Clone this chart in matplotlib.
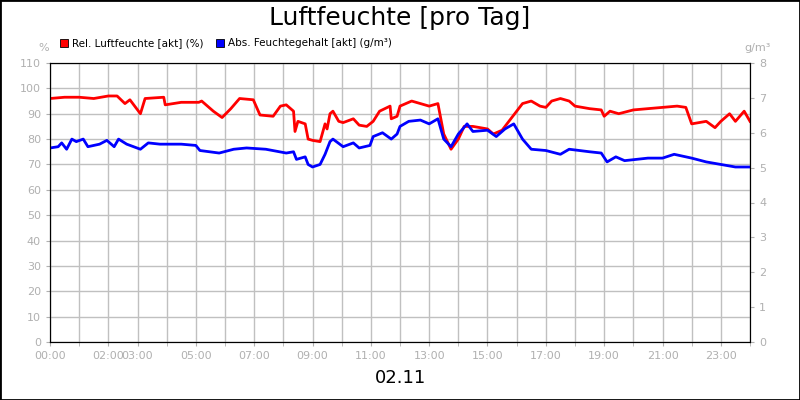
import numpy as np
import matplotlib.pyplot as plt
from matplotlib.patches import Rectangle

# Rel. Luftfeuchte (%), Stunden
rel_h = [0, 0.5, 1, 1.5, 2, 2.3, 2.57, 2.74, 3.1, 3.26, 3.9, 3.95, 4.5, 5.1, 5.2, 5.6, 5.9, 6.2,
         6.5, 6.97, 7.2, 7.65, 7.9, 8.1, 8.35, 8.4, 8.5, 8.75, 8.85, 9.0, 9.26, 9.43, 9.5, 9.6,
         9.7, 9.9, 10.05, 10.4, 10.6, 10.86, 11.08, 11.3, 11.66, 11.7, 11.9, 12.0, 12.4, 12.7,
         13.0, 13.3, 13.5, 13.75, 14.0, 14.2, 14.5, 15.0, 15.2, 15.5, 15.8, 16.2, 16.5, 16.8,
         17.0, 17.2, 17.5, 17.8, 18.0, 18.5, 18.9, 19.0, 19.2, 19.5, 20.0, 20.5, 21.0, 21.5,
         21.8, 22.0, 22.5, 22.8, 23.0, 23.3, 23.5, 23.8, 24.0]
rel_v = [96, 96.5, 96.5, 96, 97, 97, 94, 95.5, 90, 96, 96.5, 93.5, 94.5, 94.5, 95, 91, 88.5, 92,
         96, 95.5, 89.5, 89, 93, 93.5, 91, 83, 87, 86, 80, 79.5, 79, 86, 84, 90,
         91, 87, 86.5, 88, 85.5, 85, 87, 91, 93, 88, 89, 93, 95, 94,
         93, 94, 82, 76, 80, 85, 85, 84, 82, 83.5, 88, 94, 95, 93,
         92.5, 95, 96, 95, 93, 92, 91.5, 89, 91, 90, 91.5, 92, 92.5, 93,
         92.5, 86, 87, 84.5, 87, 90, 87, 91, 87]

abs_h = [0, 0.28, 0.4, 0.57, 0.75, 0.9, 1.14, 1.3, 1.7, 1.95, 2.2, 2.35, 2.63, 3.1, 3.37, 3.77,
         4.5, 5.0, 5.14, 5.8, 6.3, 6.74, 7.4, 8.1, 8.35, 8.45, 8.75, 8.85, 9.0, 9.26, 9.43, 9.6,
         9.7, 10.05, 10.4, 10.6, 10.97, 11.08, 11.4, 11.7, 11.9, 12.0, 12.3, 12.7, 13.0, 13.3,
         13.5, 13.75, 14.0, 14.3, 14.5, 15.0, 15.3, 15.6, 15.9, 16.2, 16.5, 17.0, 17.5, 17.8,
         18.5, 18.9, 19.1, 19.4, 19.7, 20.5, 21.0, 21.4, 22.0, 22.5, 23.0, 23.5, 24.0]
abs_pct = [76.5, 77, 78.5, 76, 80, 79, 80, 77, 78, 79.5, 77, 80, 78, 76, 78.5, 78,
           78, 77.5, 75.5, 74.5, 76, 76.5, 76, 74.5, 75, 72, 73, 70, 69, 70, 74, 79,
           80, 77, 78.5, 76.5, 77.5, 81, 82.5, 80, 82, 85, 87, 87.5, 86, 88,
           80, 77, 82, 86, 83, 83.5, 81, 84, 86, 80, 76, 75.5, 74, 76,
           75, 74.5, 71, 73, 71.5, 72.5, 72.5, 74, 72.5, 71, 70, 69, 69]
abs_v = np.array(abs_pct) * 8 / 110

tick_hours = [0, 2, 3, 5, 7, 9, 11, 13, 15, 17, 19, 21, 23]
tick_labels = ['00:00', '02:00', '03:00', '05:00', '07:00', '09:00', '11:00', '13:00',
               '15:00', '17:00', '19:00', '21:00', '23:00']

grey = '#b0b0b0'
fig = plt.figure(figsize=(8, 4), dpi=100)
fig.patches.append(Rectangle((0, 0), 1, 1, transform=fig.transFigure, fill=False,
                             edgecolor='black', linewidth=2))
ax = fig.add_axes([0.0625, 0.145, 0.875, 0.6975])
ax2 = ax.twinx()

ax.plot(rel_h, rel_v, color='#ff0000', linewidth=2)
ax2.plot(abs_h, abs_v, color='#0000ff', linewidth=2)

ax.set_xlim(0, 24)
ax.set_ylim(0, 110)
ax2.set_ylim(0, 8)
ax.set_xticks(range(25), minor=False)
ax.set_xticks(tick_hours)
ax.set_xticklabels(tick_labels)
ax.set_xticks(range(25), minor=True)
ax.set_yticks(range(0, 111, 10))
ax2.set_yticks(range(0, 9))
ax.grid(True, which='both', axis='x', color='#c0c0c0', linewidth=1)
ax.grid(True, axis='y', color='#c0c0c0', linewidth=1)
for a in (ax, ax2):
    a.tick_params(colors=grey, labelsize=8, length=3, which='both')
    for s in a.spines.values():
        s.set_color('black')
ax.set_axisbelow(True)

fig.text(0.5, 0.955, 'Luftfeuchte [pro Tag]', ha='center', va='center', fontsize=18)
fig.text(0.5, 0.055, '02.11', ha='center', va='center', fontsize=13)
fig.text(0.054, 0.88, '%', ha='center', va='center', fontsize=8, color=grey)
fig.text(0.947, 0.88, 'g/m³', ha='center', va='center', fontsize=8, color=grey)

for xpos, col, label in [(0.075, '#ff0000', 'Rel. Luftfeuchte [akt] (%)'),
                         (0.27, '#0000ff', 'Abs. Feuchtegehalt [akt] (g/m³)')]:
    fig.patches.append(Rectangle((xpos, 0.883), 0.01, 0.02, transform=fig.transFigure,
                                 facecolor=col, edgecolor='black', linewidth=0.6))
    fig.text(xpos + 0.015, 0.893, label, va='center', fontsize=7.5)

fig.savefig('out.png', dpi=100)
